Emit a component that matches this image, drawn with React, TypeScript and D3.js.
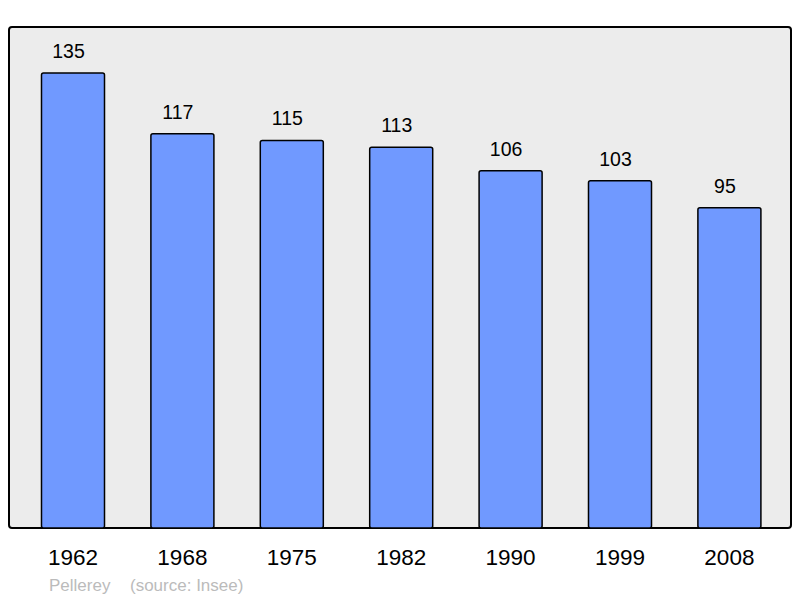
import React from "react";
import * as d3 from "d3";

const years = ["1962", "1968", "1975", "1982", "1990", "1999", "2008"];
const population = [135, 117, 115, 113, 106, 103, 95];
const footerName = "Pellerey";
const footerSource = "(source: Insee)";

const W = 800;
const H = 598;

export default function App() {
  // plot frame
  const frame = { x0: 9, y0: 27, x1: 791, y1: 528 };

  const x = d3
    .scaleBand<string>()
    .domain(years)
    .range([18.3, 784.1])
    .paddingInner(0.424)
    .paddingOuter(0.212);

  const y = d3.scaleLinear().domain([0, 135]).range([frame.y1, 73]);

  return (
    <svg
      width={W}
      height={H}
      style={{ position: "absolute", left: 0, top: 0 }}
      fontFamily="'Liberation Sans', Arial, sans-serif"
    >
      <rect width={W} height={H} fill="#ffffff" />
      <rect
        x={frame.x0}
        y={frame.y0}
        width={frame.x1 - frame.x0}
        height={frame.y1 - frame.y0}
        rx={3}
        fill="#ececec"
        stroke="#000"
        strokeWidth={2}
      />
      {years.map((yr, i) => {
        const v = population[i];
        const bx = x(yr)!;
        const bw = x.bandwidth();
        return (
          <g key={yr}>
            <rect
              x={bx}
              y={y(v)}
              width={bw}
              height={y(0) - y(v)}
              rx={2}
              fill="#7099ff"
              stroke="#000"
              strokeWidth={1.5}
            />
            {/* value labels sit a little left of the bar centre */}
            <text
              x={bx + bw / 2 - 4.5}
              y={y(v) - 15}
              textAnchor="middle"
              fontSize={19.5}
              fill="#000"
            >
              {v}
            </text>
            <text
              x={bx + bw / 2}
              y={565}
              textAnchor="middle"
              fontSize={22.5}
              fill="#000"
            >
              {yr}
            </text>
          </g>
        );
      })}
      <text x={49} y={591} fontSize={17} fill="#bbbbbb">
        {footerName}
      </text>
      <text x={130} y={591} fontSize={17} fill="#bbbbbb">
        {footerSource}
      </text>
    </svg>
  );
}
